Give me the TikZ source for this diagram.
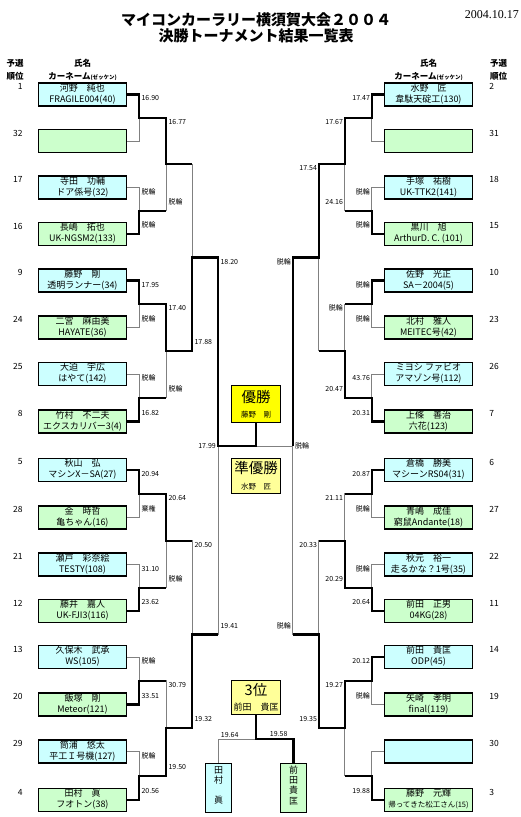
\documentclass[tikz,border=0pt]{standalone}
\usepackage{fontspec}
\setmainfont{Noto Sans CJK JP}
\newfontfamily\datefont{Liberation Serif}
\usetikzlibrary{positioning, calc}
\definecolor{cyanbox}{HTML}{CCFFFF}
\definecolor{greenbox}{HTML}{CCFFCC}
\definecolor{goldbox}{HTML}{FFFF00}
\definecolor{paleyellow}{HTML}{FFFF99}
\definecolor{thingray}{HTML}{808080}

\begin{document}
\begin{tikzpicture}[x=1pt, y=-1pt,
  entry/.style={rectangle, draw, line width=1.4pt, minimum width=88pt, minimum height=23pt, inner sep=0pt, align=center, text depth=3pt, font=\fontsize{9}{11}\selectfont},
  cbox/.style={entry, fill=cyanbox},
  gbox/.style={entry, fill=greenbox},
  seed/.style={inner sep=0pt, font=\fontsize{8.5}{10}\selectfont},
  head/.style={align=center, inner sep=0pt, font=\fontsize{8.5}{12.5}\selectfont\bfseries},
  medal/.style={rectangle, draw, line width=1.6pt, minimum width=49pt, minimum height=37pt, inner sep=0pt, align=center, font=\fontsize{7.5}{15.4}\selectfont},
  vbox/.style={rectangle, draw, line width=1.4pt, minimum width=26pt, minimum height=49pt, inner sep=0pt, align=center, text depth=6pt, font=\fontsize{9}{10.3}\selectfont},
  lose/.style={draw=thingray, line width=0.8pt},
  win/.style={draw=black, line width=2.2pt},
  tm/.style={pos=0.5, inner sep=0pt, font=\fontsize{7}{8}\selectfont},
  tl/.style={tm, anchor=west, xshift=2pt, yshift=-4pt},
  bl/.style={tm, anchor=west, xshift=2pt, yshift=9pt},
  tr/.style={tm, anchor=east, xshift=-1.5pt, yshift=-4pt},
  br/.style={tm, anchor=east, xshift=-1.5pt, yshift=9pt}
]
\useasboundingbox (0,0) rectangle (520,817);

% Title
\node[align=center, font=\fontsize{15}{15.5}\selectfont\bfseries] (title) at (256,27.7) {マイコンカーラリー横須賀大会２００４\\決勝トーナメント結果一覧表};
\node[anchor=east, inner sep=0pt, font=\datefont\fontsize{12}{12}\selectfont] (date) at (519,15) {2004.10.17};

% Headers
\node[head] (hsl) at (15,70) {予選\\順位};
\node[head] (hnl) at (82.5,70) {氏名\\カーネーム{\fontsize{5.5}{6}\selectfont (ゼッケン)}};
\node[head] (hnr) at (428.5,70) {氏名\\カーネーム{\fontsize{5.5}{6}\selectfont (ゼッケン)}};
\node[head] (hsr) at (498.5,70) {予選\\順位};

% Left entries
\node[cbox] (L1) at (82.5,94.5) {河野　純也\\FRAGILE004(40)};
\node[gbox] (L2) at (82.5,141) {};
\node[cbox] (L3) at (82.5,187.5) {寺田　功輔\\ドア係号(32)};
\node[gbox] (L4) at (82.5,234) {長嶋　拓也\\UK-NGSM2(133)};
\node[cbox] (L5) at (82.5,280.5) {藤野　剛\\透明ランナー(34)};
\node[gbox] (L6) at (82.5,327.5) {二宮　麻由美\\HAYATE(36)};
\node[cbox] (L7) at (82.5,374) {大迫　宇広\\はやて(142)};
\node[gbox] (L8) at (82.5,421.5) {竹村　不二夫\\エクスカリバー3(4)};
\node[cbox] (L9) at (82.5,470) {秋山　弘\\マシンX－SA(27)};
\node[gbox] (L10) at (82.5,517.5) {金　時哲\\亀ちゃん(16)};
\node[cbox] (L11) at (82.5,564.5) {瀬戸　彩奈絵\\TESTY(108)};
\node[gbox] (L12) at (82.5,611) {藤井　嘉人\\UK-FJI3(116)};
\node[cbox] (L13) at (82.5,657) {久保木　武承\\WS(105)};
\node[gbox] (L14) at (82.5,704.5) {飯塚　剛\\Meteor(121)};
\node[cbox] (L15) at (82.5,751.5) {筒浦　悠太\\平工Ｉ号機(127)};
\node[gbox] (L16) at (82.5,800) {田村　眞\\フオトン(38)};

% Right entries
\node[cbox] (R1) at (428.5,94.5) {水野　匠\\韋駄天碇工(130)};
\node[gbox] (R2) at (428.5,141) {};
\node[cbox] (R3) at (428.5,187.5) {手塚　祐樹\\UK-TTK2(141)};
\node[gbox] (R4) at (428.5,234) {黒川　旭\\ArthurD. C. (101)};
\node[cbox] (R5) at (428.5,280.5) {佐野　光正\\SA－2004(5)};
\node[gbox] (R6) at (428.5,327.5) {北村　雅人\\MEITEC号(42)};
\node[cbox] (R7) at (428.5,374) {ミヨシ ファビオ\\アマゾン号(112)};
\node[gbox] (R8) at (428.5,421.5) {上條　善治\\六花(123)};
\node[cbox] (R9) at (428.5,470) {倉橋　勝美\\マシーンRS04(31)};
\node[gbox] (R10) at (428.5,517.5) {青嶋　成佳\\窮鼠Andante(18)};
\node[cbox] (R11) at (428.5,564.5) {秋元　裕一\\走るかな？1号(35)};
\node[gbox] (R12) at (428.5,611) {前田　正男\\04KG(28)};
\node[cbox] (R13) at (428.5,657) {前田　貴匡\\ODP(45)};
\node[gbox] (R14) at (428.5,704.5) {矢崎　孝明\\final(119)};
\node[cbox] (R15) at (428.5,751.5) {};
\node[gbox] (R16) at (428.5,800) {藤野　元輝\\{\fontsize{7.5}{9}\selectfont 帰ってきた松工さん(15)}};

% Seeds
\node[seed, left=15pt of L1.west, yshift=8pt] (sL1) {1};
\node[seed, left=15pt of L2.west, yshift=8pt] (sL2) {32};
\node[seed, left=15pt of L3.west, yshift=8pt] (sL3) {17};
\node[seed, left=15pt of L4.west, yshift=8pt] (sL4) {16};
\node[seed, left=15pt of L5.west, yshift=8pt] (sL5) {9};
\node[seed, left=15pt of L6.west, yshift=8pt] (sL6) {24};
\node[seed, left=15pt of L7.west, yshift=8pt] (sL7) {25};
\node[seed, left=15pt of L8.west, yshift=8pt] (sL8) {8};
\node[seed, left=15pt of L9.west, yshift=8pt] (sL9) {5};
\node[seed, left=15pt of L10.west, yshift=8pt] (sL10) {28};
\node[seed, left=15pt of L11.west, yshift=8pt] (sL11) {21};
\node[seed, left=15pt of L12.west, yshift=8pt] (sL12) {12};
\node[seed, left=15pt of L13.west, yshift=8pt] (sL13) {13};
\node[seed, left=15pt of L14.west, yshift=8pt] (sL14) {20};
\node[seed, left=15pt of L15.west, yshift=8pt] (sL15) {29};
\node[seed, left=15pt of L16.west, yshift=8pt] (sL16) {4};
\node[seed, right=16pt of R1.east, yshift=8pt] (sR1) {2};
\node[seed, right=16pt of R2.east, yshift=8pt] (sR2) {31};
\node[seed, right=16pt of R3.east, yshift=8pt] (sR3) {18};
\node[seed, right=16pt of R4.east, yshift=8pt] (sR4) {15};
\node[seed, right=16pt of R5.east, yshift=8pt] (sR5) {10};
\node[seed, right=16pt of R6.east, yshift=8pt] (sR6) {23};
\node[seed, right=16pt of R7.east, yshift=8pt] (sR7) {26};
\node[seed, right=16pt of R8.east, yshift=8pt] (sR8) {7};
\node[seed, right=16pt of R9.east, yshift=8pt] (sR9) {6};
\node[seed, right=16pt of R10.east, yshift=8pt] (sR10) {27};
\node[seed, right=16pt of R11.east, yshift=8pt] (sR11) {22};
\node[seed, right=16pt of R12.east, yshift=8pt] (sR12) {11};
\node[seed, right=16pt of R13.east, yshift=8pt] (sR13) {14};
\node[seed, right=16pt of R14.east, yshift=8pt] (sR14) {19};
\node[seed, right=16pt of R15.east, yshift=8pt] (sR15) {30};
\node[seed, right=16pt of R16.east, yshift=8pt] (sR16) {3};

% Junctions, left
\coordinate (la1) at ($(L1.east)!0.5!(L2.east)+(12,0)$);
\coordinate (la2) at ($(L3.east)!0.5!(L4.east)+(12,0)$);
\coordinate (la3) at ($(L5.east)!0.5!(L6.east)+(12,0)$);
\coordinate (la4) at ($(L7.east)!0.5!(L8.east)+(12,0)$);
\coordinate (la5) at ($(L9.east)!0.5!(L10.east)+(12,0)$);
\coordinate (la6) at ($(L11.east)!0.5!(L12.east)+(12,0)$);
\coordinate (la7) at ($(L13.east)!0.5!(L14.east)+(12,0)$);
\coordinate (la8) at ($(L15.east)!0.5!(L16.east)+(12,0)$);
\coordinate (lb1) at ($(la1)!0.5!(la2)+(27,0)$);
\coordinate (lb2) at ($(la3)!0.5!(la4)+(27,0)$);
\coordinate (lb3) at ($(la5)!0.5!(la6)+(27,0)$);
\coordinate (lb4) at ($(la7)!0.5!(la8)+(27,0)$);
\coordinate (lc1) at ($(lb1)!0.5!(lb2)+(26,0)$);
\coordinate (lc2) at ($(lb3)!0.5!(lb4)+(26,0)$);
\coordinate (ld) at ($(lc1)!0.5!(lc2)+(26,0)$);

% Junctions, right
\coordinate (ra1) at ($(R1.west)!0.5!(R2.west)+(-12,0)$);
\coordinate (ra2) at ($(R3.west)!0.5!(R4.west)+(-12,0)$);
\coordinate (ra3) at ($(R5.west)!0.5!(R6.west)+(-12,0)$);
\coordinate (ra4) at ($(R7.west)!0.5!(R8.west)+(-12,0)$);
\coordinate (ra5) at ($(R9.west)!0.5!(R10.west)+(-12,0)$);
\coordinate (ra6) at ($(R11.west)!0.5!(R12.west)+(-12,0)$);
\coordinate (ra7) at ($(R13.west)!0.5!(R14.west)+(-12,0)$);
\coordinate (ra8) at ($(R15.west)!0.5!(R16.west)+(-12,0)$);
\coordinate (rb1) at ($(ra1)!0.5!(ra2)+(-27,0)$);
\coordinate (rb2) at ($(ra3)!0.5!(ra4)+(-27,0)$);
\coordinate (rb3) at ($(ra5)!0.5!(ra6)+(-27,0)$);
\coordinate (rb4) at ($(ra7)!0.5!(ra8)+(-27,0)$);
\coordinate (rc1) at ($(rb1)!0.5!(rb2)+(-26,0)$);
\coordinate (rc2) at ($(rb3)!0.5!(rb4)+(-26,0)$);
\coordinate (rd) at ($(rc1)!0.5!(rc2)+(-26,0)$);

% Medal boxes
\node[medal, fill=goldbox] (champ) at (256,404) {{\fontsize{14.5}{15}\selectfont 優勝}\\藤野　剛};
\node[medal, fill=paleyellow, line width=0.8pt, minimum height=35pt] (second) at (256,475.5) {{\fontsize{14.5}{15}\selectfont 準優勝}\\水野　匠};
\node[medal, fill=paleyellow, minimum height=34pt, font=\fontsize{9}{15.1}\selectfont] (third) at (256,697.5) {{\fontsize{14.5}{15}\selectfont 3位}\\前田　貴匡};
\node[vbox, fill=cyanbox] (tam) at (218.5,788) {田\\村\\[10.3pt]眞};
\node[vbox, fill=greenbox] (mae) at (293.5,788) {前\\田\\貴\\匡};
\coordinate (m3) at ($(third.south)+(0,24)$);

% Bracket, left
\draw[lose] (L1.east) -| node[tl] (lt1) {16.90} (la1) (L2.east) -| (la1);
\draw[lose] (L3.east) -| node[tl] (lt2) {脱輪} (la2) (L4.east) -| node[bl] (lt3) {脱輪} (la2);
\draw[lose] (L5.east) -| node[tl] (lt4) {17.95} (la3) (L6.east) -| node[bl] (lt5) {脱輪} (la3);
\draw[lose] (L7.east) -| node[tl] (lt6) {脱輪} (la4) (L8.east) -| node[bl] (lt7) {16.82} (la4);
\draw[lose] (L9.east) -| node[tl] (lt8) {20.94} (la5) (L10.east) -| node[bl] (lt9) {棄権} (la5);
\draw[lose] (L11.east) -| node[tl] (lt10) {31.10} (la6) (L12.east) -| node[bl] (lt11) {23.62} (la6);
\draw[lose] (L13.east) -| node[tl] (lt12) {脱輪} (la7) (L14.east) -| node[bl] (lt13) {33.51} (la7);
\draw[lose] (L15.east) -| node[tl] (lt14) {脱輪} (la8) (L16.east) -| node[bl] (lt15) {20.56} (la8);
\draw[lose] (la1) -| node[tl] (lt16) {16.77} (lb1) (la2) -| node[bl] (lt17) {脱輪} (lb1);
\draw[lose] (la3) -| node[tl] (lt18) {17.40} (lb2) (la4) -| node[bl] (lt19) {脱輪} (lb2);
\draw[lose] (la5) -| node[tl] (lt20) {20.64} (lb3) (la6) -| node[bl] (lt21) {脱輪} (lb3);
\draw[lose] (la7) -| node[tl] (lt22) {30.79} (lb4) (la8) -| node[bl] (lt23) {19.50} (lb4);
\draw[lose] (lb1) -| (lc1) (lb2) -| node[bl] (lt24) {17.88} (lc1);
\draw[lose] (lb3) -| node[tl] (lt25) {20.50} (lc2) (lb4) -| node[bl] (lt26) {19.32} (lc2);
\draw[lose] (lc1) -| node[tl] (lt27) {18.20} (ld) (lc2) -| node[bl] (lt28) {19.41} (ld);

% Bracket, right
\draw[lose] (R1.west) -| node[tr] (rt1) {17.47} (ra1) (R2.west) -| (ra1);
\draw[lose] (R3.west) -| node[tr] (rt2) {脱輪} (ra2) (R4.west) -| node[br] (rt3) {脱輪} (ra2);
\draw[lose] (R5.west) -| node[tr] (rt4) {脱輪} (ra3) (R6.west) -| node[br] (rt5) {脱輪} (ra3);
\draw[lose] (R7.west) -| node[tr] (rt6) {43.76} (ra4) (R8.west) -| node[br] (rt7) {20.31} (ra4);
\draw[lose] (R9.west) -| node[tr] (rt8) {20.87} (ra5) (R10.west) -| node[br] (rt9) {脱輪} (ra5);
\draw[lose] (R11.west) -| node[tr] (rt10) {脱輪} (ra6) (R12.west) -| node[br] (rt11) {20.64} (ra6);
\draw[lose] (R13.west) -| node[tr] (rt12) {20.12} (ra7) (R14.west) -| node[br] (rt13) {脱輪} (ra7);
\draw[lose] (R15.west) -| (ra8) (R16.west) -| node[br] (rt14) {19.88} (ra8);
\draw[lose] (ra1) -| node[tr] (rt15) {17.67} (rb1) (ra2) -| node[br] (rt16) {24.16} (rb1);
\draw[lose] (ra3) -| node[tr] (rt17) {脱輪} (rb2) (ra4) -| node[br] (rt18) {20.47} (rb2);
\draw[lose] (ra5) -| node[tr] (rt19) {21.11} (rb3) (ra6) -| node[br] (rt20) {20.29} (rb3);
\draw[lose] (ra7) -| node[tr] (rt21) {19.27} (rb4) (ra8) -| (rb4);
\draw[lose] (rb1) -| node[tr] (rt22) {17.54} (rc1) (rb2) -| (rc1);
\draw[lose] (rb3) -| node[tr] (rt23) {20.33} (rc2) (rb4) -| node[br] (rt24) {19.35} (rc2);
\draw[lose] (rc1) -| node[tr] (rt25) {脱輪} (rd) (rc2) -| node[br] (rt26) {脱輪} (rd);

% Final and third place
\draw[lose] (ld) -- node[tm, pos=0, anchor=east, xshift=-2pt] (tf1) {17.99} node[tm, pos=1, anchor=west, xshift=2pt] (tf2) {脱輪} (rd);
\draw[lose] (tam.north) |- node[tm, anchor=south west, xshift=2pt, yshift=1.5pt] (t3l) {19.64} (m3);

% Winning paths
\draw[win] (L1.east) -| (la1) -| (lb1) -- (lb1 -| lc1);
\draw[win] (L4.east) -| (la2) -- (la2 -| lb1);
\draw[win] (L5.east) -| (la3) -| (lb2) -| (lc1) -| (ld) -| (champ.south);
\draw[win] (L8.east) -| (la4) -- (la4 -| lb2);
\draw[win] (L9.east) -| (la5) -| (lb3) -- (lb3 -| lc2);
\draw[win] (L12.east) -| (la6) -- (la6 -| lb3);
\draw[win] (L14.east) -| (la7) -- (la7 -| lb4);
\draw[win] (L16.east) -| (la8) -| (lb4) -| (lc2) -- (lc2 -| ld);
\draw[win] (R1.west) -| (ra1) -| (rb1) -| (rc1) -| (rd);
\draw[win] (R4.west) -| (ra2) -- (ra2 -| rb1);
\draw[win] (R5.west) -| (ra3) -- (ra3 -| rb2);
\draw[win] (R8.west) -| (ra4) -| (rb2) -- (rb2 -| rc1);
\draw[win] (R9.west) -| (ra5) -- (ra5 -| rb3);
\draw[win] (R12.west) -| (ra6) -| (rb3) -- (rb3 -| rc2);
\draw[win] (R13.west) -| (ra7) -| (rb4) -| (rc2) -- (rc2 -| rd);
\draw[win] (R16.west) -| (ra8) -- (ra8 -| rb4);
\draw[win] (third.south) -- (m3) -| node[tm, anchor=south east, xshift=-5pt, yshift=1.5pt] (t3r) {19.58} (mae.north);

\end{tikzpicture}
\end{document}
